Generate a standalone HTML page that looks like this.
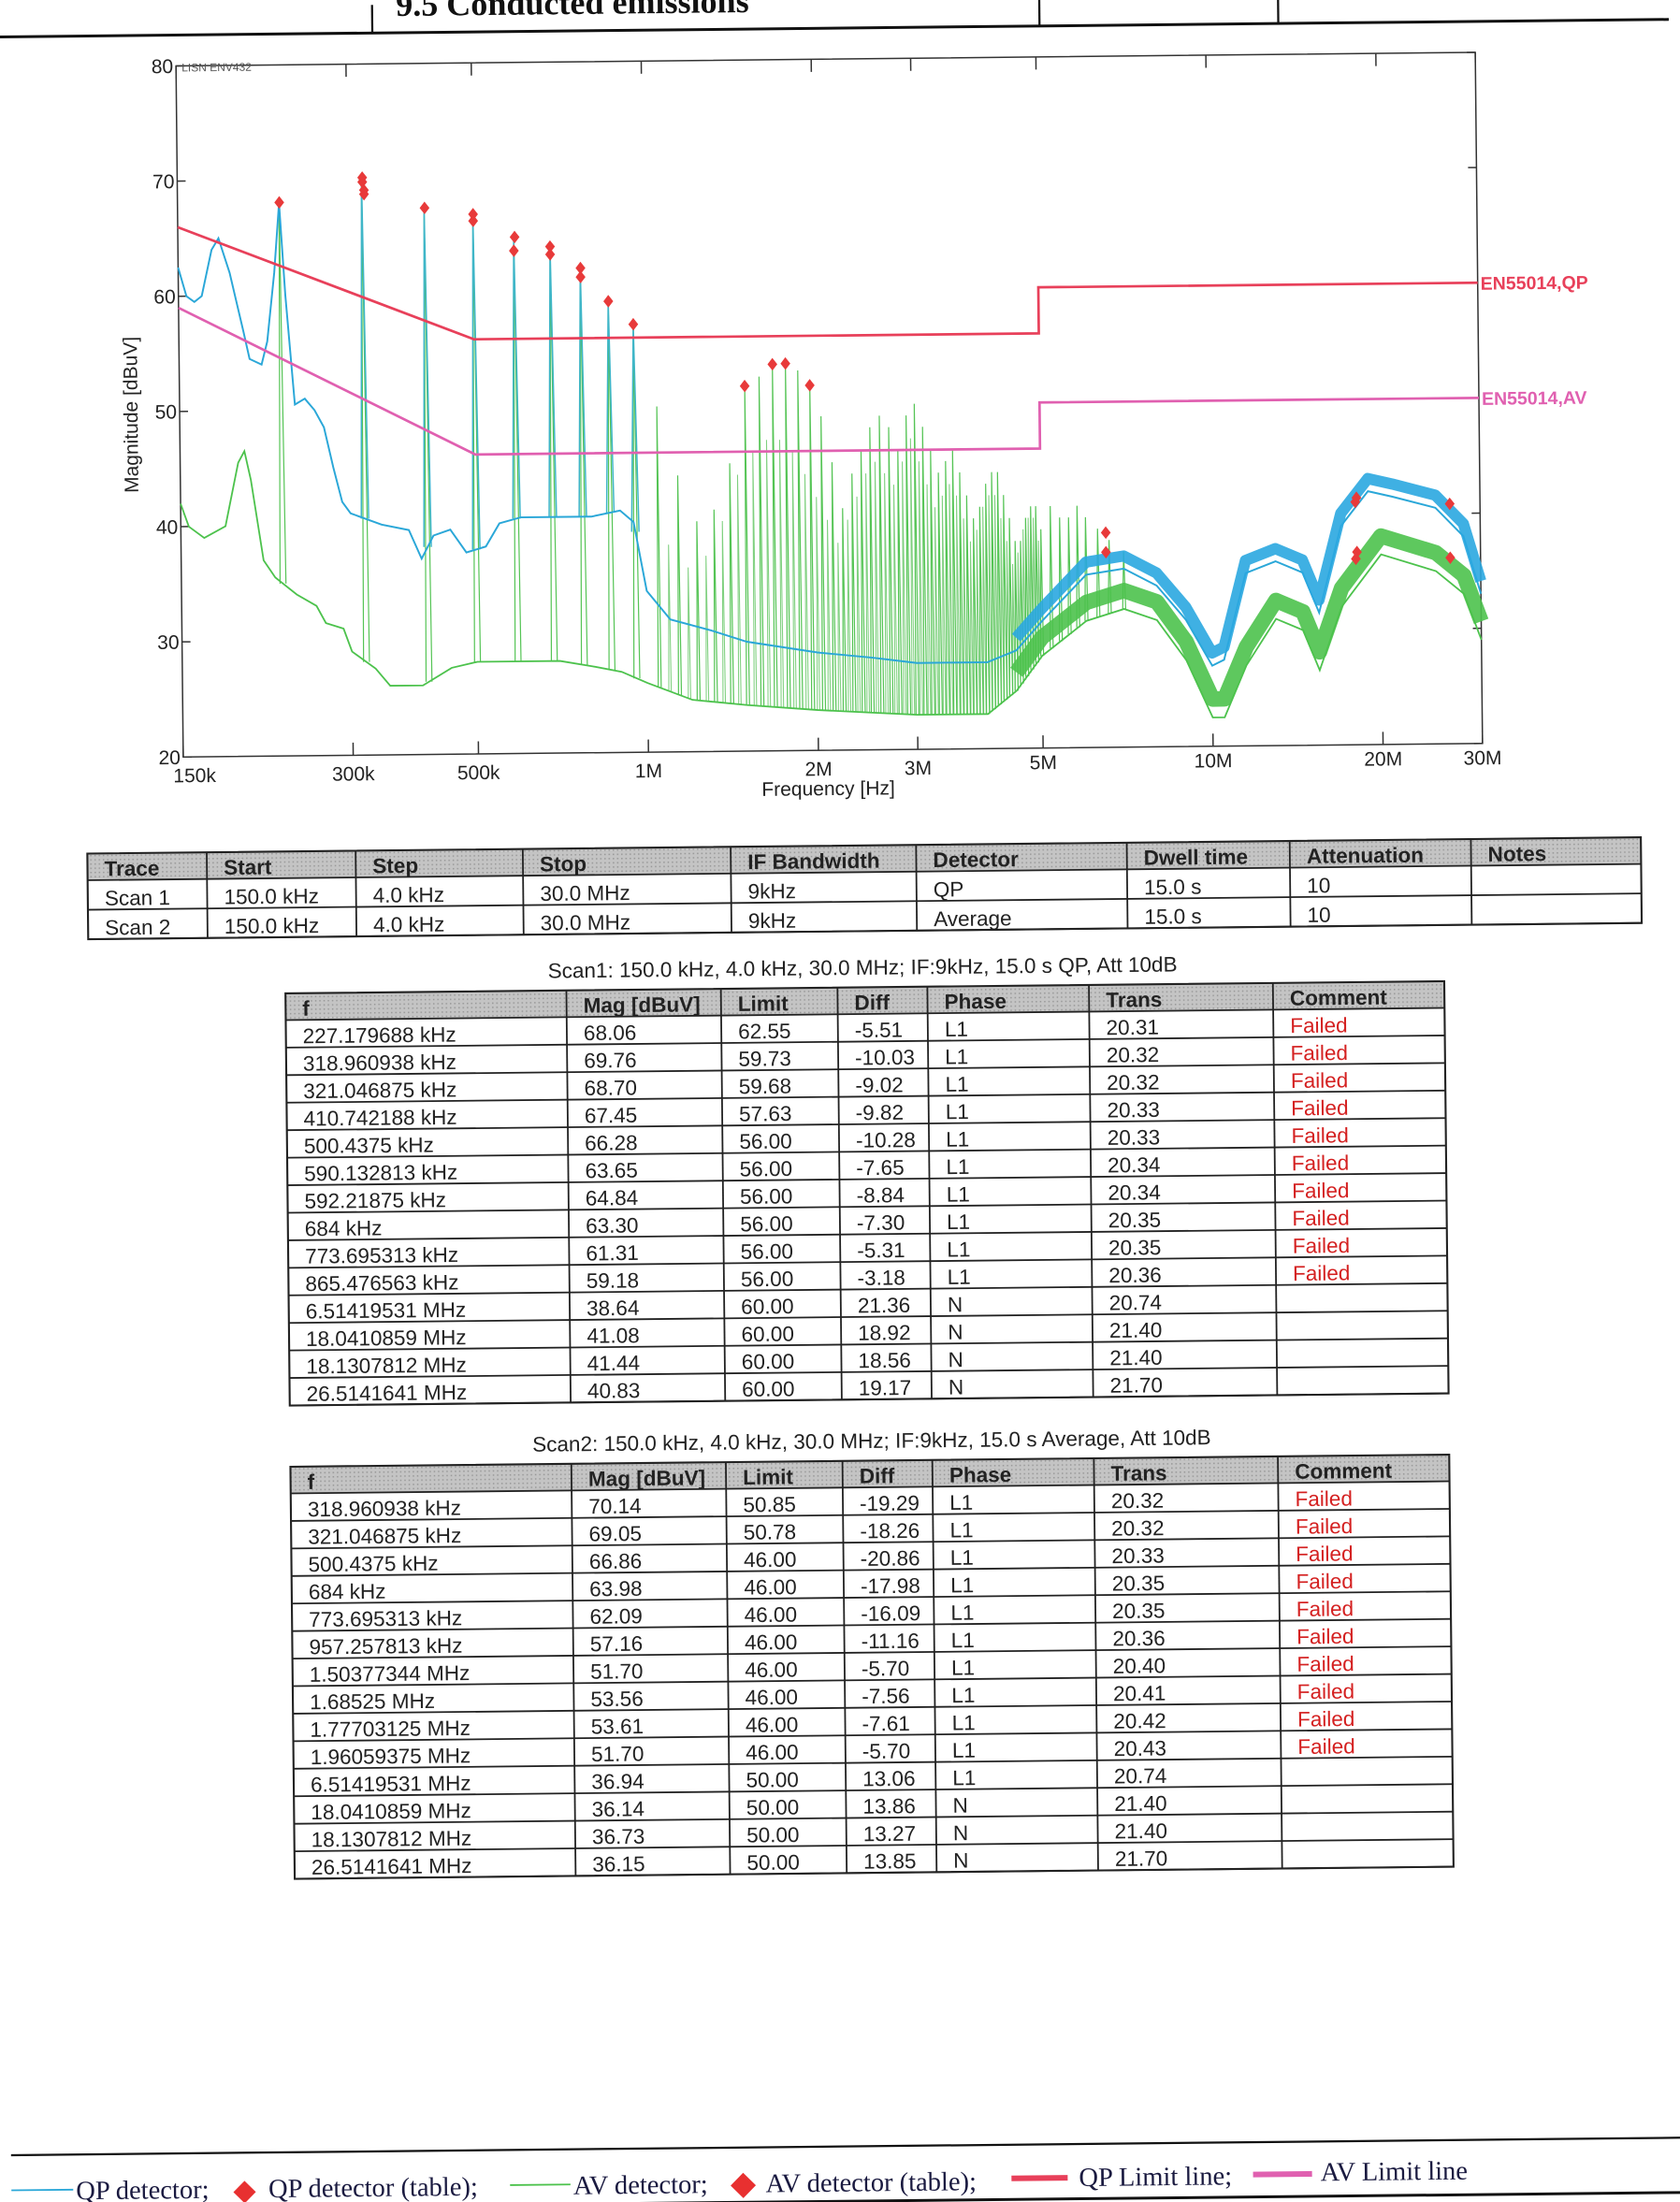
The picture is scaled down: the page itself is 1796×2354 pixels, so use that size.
<!DOCTYPE html>
<html><head><meta charset="utf-8">
<style>
html,body{margin:0;padding:0;background:#fff;}
svg{display:block;}
text{font-family:"Liberation Sans",sans-serif;}
.serif{font-family:"Liberation Serif",serif;}
</style></head>
<body>
<svg id="page" width="1796" height="2354" viewBox="0 0 1196 1567.5" xmlns="http://www.w3.org/2000/svg">
<defs>
<pattern id="hatch" width="3" height="3" patternUnits="userSpaceOnUse">
<rect width="3" height="3" fill="#c4c4c4"/><rect width="1" height="1" fill="#999"/>
</pattern>
</defs>
<rect width="1196" height="1567.5" fill="#fff"/>
<g id="root" transform="rotate(-0.6 598 780)">
  <g>
    <text class="serif" x="290" y="8" font-size="24" font-weight="bold" fill="#111">9.5    Conducted emissions</text>
    <line x1="0" y1="20" x2="1196" y2="20" stroke="#111" stroke-width="2"/>
    <line x1="273" y1="0" x2="273" y2="20" stroke="#111" stroke-width="1.5"/>
    <line x1="748" y1="0" x2="748" y2="20" stroke="#111" stroke-width="1.5"/>
    <line x1="918" y1="0" x2="918" y2="20" stroke="#111" stroke-width="1.5"/>
  </g>
  <g id="chart"></g>
  <g id="tables"></g>
  <g>
    <line x1="0" y1="1528" x2="1196" y2="1528" stroke="#111" stroke-width="1.5"/>
    <line x1="0" y1="1567" x2="1196" y2="1567" stroke="#111" stroke-width="2"/>
    <line x1="0" y1="1553" x2="44" y2="1553" stroke="#2aa7d8" stroke-width="1.2"/>
    <text class="serif" x="46" y="1560" font-size="19" fill="#1a1a40">QP detector;</text>
    <path d="M166,1548 l8,8 l-8,8 l-8,-8z" fill="#e83030"/>
    <text class="serif" x="183" y="1560" font-size="19" fill="#1a1a40">QP detector (table);</text>
    <line x1="355" y1="1553" x2="398" y2="1553" stroke="#4cc24c" stroke-width="1.2"/>
    <text class="serif" x="400" y="1560" font-size="19" fill="#1a1a40">AV detector;</text>
    <path d="M521,1546 l9,9 l-9,9 l-9,-9z" fill="#e83030"/>
    <text class="serif" x="537" y="1560" font-size="19" fill="#1a1a40">AV detector (table);</text>
    <line x1="712" y1="1552" x2="752" y2="1552" stroke="#e8405a" stroke-width="4"/>
    <text class="serif" x="760" y="1558" font-size="19" fill="#1a1a40">QP Limit line;</text>
    <line x1="884" y1="1551" x2="926" y2="1551" stroke="#e060b0" stroke-width="4"/>
    <text class="serif" x="932" y="1556" font-size="19" fill="#1a1a40">AV Limit line</text>
  </g>
</g>
</svg>
<script>
// ---------- chart data ----------
const yTicks = [20,30,40,50,60,70,80];
const xTickFreqs = [150e3,300e3,500e3,1e6,2e6,3e6,5e6,10e6,20e6,30e6];
const xTickLabels = ['150k','300k','500k','1M','2M','3M','5M','10M','20M','30M'];
// QP trace (blue) baseline, kHz / dBuV
const qpF = [150,155,160,165,172,177,185,195,200,210,215,222,227,232,240,250,260,270,280,290,300,340,380,400,420,450,480,520,550,600,700,800,900,950,1000,1100,1300,1500,2000,2500,3000,4000,4500,5000,6000,7000,8000,9000,10000,10500,11500,13000,14500,15500,17000,19000,21000,25000,28000,30000];
const qpV = [62.5,60,59.5,60,64,65,62,57,54.5,54,56,62,68,60,50.5,51,50,48.5,45,42,41,40,39.5,37,39,39.5,37.5,38,40,40.5,40.5,40.5,41,40,34,31.5,30.5,29.5,28.5,28,27.5,27.5,28.5,31,35,35.5,34,31,27,27.5,35,36,35,31.5,39,42,41.5,40.5,38,33];
// AV trace (green) baseline
const avF = [150,155,165,180,190,195,200,210,220,240,260,270,290,300,330,350,400,450,500,600,700,800,900,1000,1200,1500,2000,3000,4000,4500,5000,6000,7000,8000,9000,10000,10500,11500,13000,14500,15500,17000,20000,25000,28000,30000];
const avV = [42,40,39,40,45.5,46.5,44,37,35.5,34,33,31.5,31,29,27.5,26,26,27.5,28,28,28,27.5,27,26,24.5,24,23.5,23,23,25,28,31,32,31,27.5,22.5,22.5,27,31,30,26.5,32,36.5,35,33,29];
// comb spikes (kHz, peak dBuV)
const spikeF = [227,318,410,500,590,684,773,865,957,1050,1140,1230,1320,1410,1504,1595,1685,1777,1868,1961,2050,2140,2230,2320,2410,2500,2600,2700,2800,2900,3000,3100,3200,3300,3400,3500,3600,3700,3800,3900,4000,4100,4200,4300,4400,4500,4600,4700,4800,4900,5000,5200,5400,5600,5800,6000,6300,6600,7000];
const spikeV = [68,70.1,67.5,66.8,64.8,64,62,59.2,57.2,50,44,40,41,45,51.7,52.5,53.6,53.6,53,51.7,49,45,41,44,46,48,49,48,46,49,50,48,46,44,45,46,44,42,40,41,43,44,44,42,40,38,38,40,41,41,39,41,40,40,41,40,39,38,37];
// secondary (interleaved) comb spikes in the dense region
const spike2F = [1095,1185,1275,1365,1455,1550,1640,1730,1822,1915,2005,2095,2185,2275,2365,2455,2550,2650,2750,2850,2950,3050,3150,3250,3350,3450,3550,3650,3750,3850,3950,4050,4150,4250,4350,4450,4550,4650,4750,4850,4950];
const spike2V = [38,36,37,40,44,46,47,47,46,44,42,40,38,40,42,44,45,44,43,45,47,45,43,41,42,43,42,40,38,39,41,42,42,40,38,36,37,39,40,40,38];
// table markers
const scan1F = [227.179688,318.960938,321.046875,410.742188,500.4375,590.132813,592.21875,684,773.695313,865.476563,6514.19531,18041.0859,18130.7812,26514.1641];
const scan1V = [68.06,69.76,68.70,67.45,66.28,63.65,64.84,63.30,61.31,59.18,38.64,41.08,41.44,40.83];
const scan2F = [318.960938,321.046875,500.4375,684,773.695313,957.257813,1503.77344,1685.25,1777.03125,1960.59375,6514.19531,18041.0859,18130.7812,26514.1641];
const scan2V = [70.14,69.05,66.86,63.98,62.09,57.16,51.70,53.56,53.61,51.70,36.94,36.14,36.73,36.15];
// limits
const qpLimF = [150,500,5000,5000,30000];
const qpLimV = [66,56,56,60,60];
const avLimF = [150,500,5000,5000,30000];
const avLimV = [59,46,46,50,50];

const NS='http://www.w3.org/2000/svg';
const X0=133,X1=1058,Y20=534,PXDB=8.2;
function xs(kHz){return X0+Math.log10(kHz*1e3/150e3)/Math.log10(200)*(X1-X0);}
function ys(v){return Y20-(v-20)*PXDB;}
function mk(tag,attrs,parent){const e=document.createElementNS(NS,tag);for(const k in attrs)e.setAttribute(k,attrs[k]);parent.appendChild(e);return e;}
function interp(F,V,f){if(f<=F[0])return V[0];for(let i=1;i<F.length;i++){if(f<=F[i]){const t=(Math.log(f)-Math.log(F[i-1]))/(Math.log(F[i])-Math.log(F[i-1])||1);return V[i-1]+t*(V[i]-V[i-1]);}}return V[V.length-1];}
const chart=document.getElementById('chart');

let box=mk('rect',{x:X0,y:ys(80),width:X1-X0,height:Y20-ys(80),fill:'none',stroke:'#333','stroke-width':1},chart);


yTicks.forEach(v=>{
  mk('line',{x1:X0,y1:ys(v),x2:X0+6,y2:ys(v),stroke:'#333'},chart);
  mk('line',{x1:X1,y1:ys(v),x2:X1-6,y2:ys(v),stroke:'#333'},chart);
  const t=mk('text',{x:X0-2,y:ys(v)+5,'font-size':14,'text-anchor':'end',fill:'#222'},chart);
  t.textContent=v;
  
  
});
xTickFreqs.forEach((f,i)=>{
  const x=xs(f/1e3);
  mk('line',{x1:x,y1:Y20,x2:x,y2:Y20-9,stroke:'#333'},chart);
  mk('line',{x1:x,y1:ys(80),x2:x,y2:ys(80)+9,stroke:'#333'},chart);
  const t=mk('text',{x:x+(i===0?8:0),y:Y20+18-(i>5?3:0),'font-size':14,'text-anchor':'middle',fill:'#222'},chart);
  t.textContent=xTickLabels[i];
  
  
});
let lt=mk('text',{x:X0+4,y:ys(80)+4,'font-size':8,fill:'#555'},chart);lt.textContent='LISN ENV432';


let xt=mk('text',{x:592,y:566,'font-size':14,'text-anchor':'middle',fill:'#222'},chart);xt.textContent='Frequency [Hz]';


let yt=mk('text',{x:0,y:0,'font-size':14,'text-anchor':'middle',fill:'#222',transform:'translate(103,290) rotate(-90)'},chart);yt.textContent='Magnitude [dBuV]';



function pts(F,V){return F.map((f,i)=>xs(f).toFixed(1)+','+ys(V[i]).toFixed(1)).join(' ');}
function spike(f,v,w,color,sw,name){
  const b=interp(avF,avV,f);
  const p=mk('path',{d:`M${xs(f*(1-w))},${ys(b)} L${xs(f)},${ys(v)} L${xs(f*(1+w))},${ys(b)}`,fill:'none',stroke:color,'stroke-width':sw},chart);
  
  
}
spike2F.forEach((f,i)=>spike(f,spike2V[i],0.005,'#7fd07f',0.7,'av-spike-secondary'));
spikeF.forEach((f,i)=>spike(f,spikeV[i],f<1000?0.012:0.006,'#55c455',0.8,'av-spike'));

let avl=mk('polyline',{points:pts(avF,avV),fill:'none',stroke:'#4cc24c','stroke-width':1.2},chart);


const hiAvF=avF.filter(f=>f>=4500), hiAvV=avV.filter((v,i)=>avF[i]>=4500);
let avb=mk('polyline',{points:pts(hiAvF,hiAvV.map(v=>v+1.6)),fill:'none',stroke:'#4cc24c','stroke-width':11,'stroke-linejoin':'round','stroke-opacity':0.9},chart);



spikeF.forEach((f,i)=>{
  if(f>1000)return;
  const b=interp(qpF,qpV,f);
  if(spikeV[i]<=b)return;
  const p=mk('path',{d:`M${xs(f*0.985)},${ys(b)} L${xs(f)},${ys(spikeV[i])} L${xs(f*1.015)},${ys(b)}`,fill:'none',stroke:'#3fb6c8','stroke-width':1},chart);
  
  
});
let qpl=mk('polyline',{points:pts(qpF,qpV),fill:'none',stroke:'#2aa7d8','stroke-width':1.3},chart);


const hiQpF=qpF.filter(f=>f>=4500), hiQpV=qpV.filter((v,i)=>qpF[i]>=4500);
let qpb=mk('polyline',{points:pts(hiQpF,hiQpV.map(v=>v+1.1)),fill:'none',stroke:'#2aa7e0','stroke-width':8,'stroke-linejoin':'round','stroke-opacity':0.9},chart);



let ql=mk('polyline',{points:pts(qpLimF,qpLimV),fill:'none',stroke:'#e8405a','stroke-width':1.8},chart);


let al=mk('polyline',{points:pts(avLimF,avLimV),fill:'none',stroke:'#e060b0','stroke-width':1.8},chart);


let qlt=mk('text',{x:X1+2,y:ys(60)+5,'font-size':13,'font-weight':'bold',fill:'#e8405a'},chart);qlt.textContent='EN55014,QP';


let alt=mk('text',{x:X1+2,y:ys(50)+5,'font-size':13,'font-weight':'bold',fill:'#e060b0'},chart);alt.textContent='EN55014,AV';


function diamond(f,v){const x=xs(f),y=ys(v);return `M${x},${y-4.5} L${x+3.5},${y} L${x},${y+4.5} L${x-3.5},${y}Z`;}
scan1F.forEach((f,i)=>{const d=mk('path',{d:diamond(f,scan1V[i]),fill:'#e83a3a'},chart);
  
  });
scan2F.forEach((f,i)=>{const d=mk('path',{d:diamond(f,scan2V[i]),fill:'#e83a3a'},chart);
  
  });

// ---------- tables ----------
const tables=document.getElementById('tables');
function drawTable(name,cols,top,headH,rowH,head,rows,fs,failedCol){
  const g=mk('g',{},tables);
  
  
  const L=cols[0],R=cols[cols.length-1],bottom=top+headH+rowH*rows.length;
  mk('rect',{x:L,y:top,width:R-L,height:headH,fill:'url(#hatch)'},g);
  mk('rect',{x:L,y:top,width:R-L,height:bottom-top,fill:'none',stroke:'#222','stroke-width':1.4},g);
  for(let i=0;i<=rows.length;i++)mk('line',{x1:L,y1:top+headH+i*rowH,x2:R,y2:top+headH+i*rowH,stroke:'#222','stroke-width':1.2},g);
  cols.slice(1,-1).forEach(c=>mk('line',{x1:c,y1:top,x2:c,y2:bottom,stroke:'#222','stroke-width':1.2},g));
  head.forEach((h,j)=>{const t=mk('text',{x:cols[j]+12,y:top+headH-3,'font-size':fs,'font-weight':'bold',fill:'#222'},g);t.textContent=h;
    
    });
  rows.forEach((r,i)=>r.forEach((c,j)=>{if(!c)return;
    const t=mk('text',{x:cols[j]+12,y:top+headH+(i+1)*rowH-3,'font-size':fs,fill:(j===failedCol?'#d42020':'#222')},g);t.textContent=c;
    
    }));
}
drawTable('scan-settings-table',[64,149,255,374,522,654,804,920,1049,1170],602,19,21,
 ['Trace','Start','Step','Stop','IF Bandwidth','Detector','Dwell time','Attenuation','Notes'],
 [['Scan 1','150.0 kHz','4.0 kHz','30.0 MHz','9kHz','QP','15.0 s','10',''],
  ['Scan 2','150.0 kHz','4.0 kHz','30.0 MHz','9kHz','Average','15.0 s','10','']],15,-1);
const c2=[204,404,514,597,661,776,907,1029];
const s1Rows=[['227.179688 kHz','68.06','62.55','-5.51','L1','20.31','Failed'],['318.960938 kHz','69.76','59.73','-10.03','L1','20.32','Failed'],['321.046875 kHz','68.70','59.68','-9.02','L1','20.32','Failed'],['410.742188 kHz','67.45','57.63','-9.82','L1','20.33','Failed'],['500.4375 kHz','66.28','56.00','-10.28','L1','20.33','Failed'],['590.132813 kHz','63.65','56.00','-7.65','L1','20.34','Failed'],['592.21875 kHz','64.84','56.00','-8.84','L1','20.34','Failed'],['684 kHz','63.30','56.00','-7.30','L1','20.35','Failed'],['773.695313 kHz','61.31','56.00','-5.31','L1','20.35','Failed'],['865.476563 kHz','59.18','56.00','-3.18','L1','20.36','Failed'],['6.51419531 MHz','38.64','60.00','21.36','N','20.74',''],['18.0410859 MHz','41.08','60.00','18.92','N','21.40',''],['18.1307812 MHz','41.44','60.00','18.56','N','21.40',''],['26.5141641 MHz','40.83','60.00','19.17','N','21.70','']];
const s2Rows=[['318.960938 kHz','70.14','50.85','-19.29','L1','20.32','Failed'],['321.046875 kHz','69.05','50.78','-18.26','L1','20.32','Failed'],['500.4375 kHz','66.86','46.00','-20.86','L1','20.33','Failed'],['684 kHz','63.98','46.00','-17.98','L1','20.35','Failed'],['773.695313 kHz','62.09','46.00','-16.09','L1','20.35','Failed'],['957.257813 kHz','57.16','46.00','-11.16','L1','20.36','Failed'],['1.50377344 MHz','51.70','46.00','-5.70','L1','20.40','Failed'],['1.68525 MHz','53.56','46.00','-7.56','L1','20.41','Failed'],['1.77703125 MHz','53.61','46.00','-7.61','L1','20.42','Failed'],['1.96059375 MHz','51.70','46.00','-5.70','L1','20.43','Failed'],['6.51419531 MHz','36.94','50.00','13.06','L1','20.74',''],['18.0410859 MHz','36.14','50.00','13.86','N','21.40',''],['18.1307812 MHz','36.73','50.00','13.27','N','21.40',''],['26.5141641 MHz','36.15','50.00','13.85','N','21.70','']];
const hdr=['f','Mag [dBuV]','Limit','Diff','Phase','Trans','Comment'];
let t1=mk('text',{x:615,y:694,'font-size':15,'text-anchor':'middle',fill:'#222'},tables);t1.textContent='Scan1: 150.0 kHz, 4.0 kHz, 30.0 MHz; IF:9kHz, 15.0 s QP, Att 10dB';


drawTable('scan1-results-table',c2,703,19,19.6,hdr,s1Rows,15,6);
let t2=mk('text',{x:618,y:1031,'font-size':15,'text-anchor':'middle',fill:'#222'},tables);t2.textContent='Scan2: 150.0 kHz, 4.0 kHz, 30.0 MHz; IF:9kHz, 15.0 s Average, Att 10dB';


drawTable('scan2-results-table',c2,1040,19,19.6,hdr,s2Rows,15,6);
</script>
</body></html>
